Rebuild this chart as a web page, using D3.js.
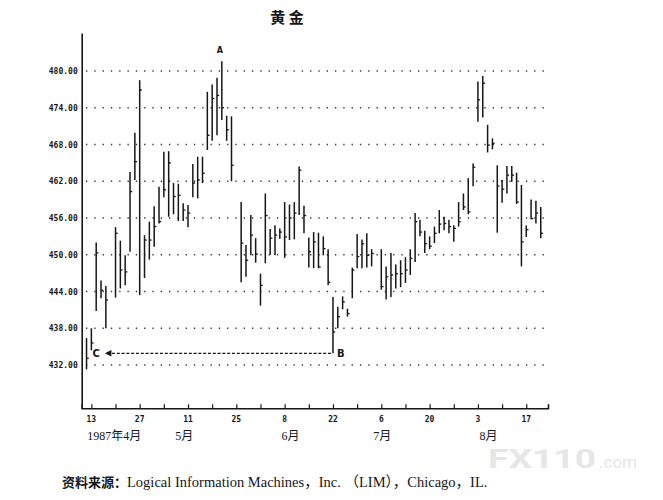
<!DOCTYPE html>
<html>
<head>
<meta charset="utf-8">
<script src="https://cdn.jsdelivr.net/npm/d3@7"></script>
<style>
  body { margin: 0; background: #fff; }
  svg { display: block; }
</style>
</head>
<body>
<svg id="chart" width="663" height="500"></svg>
<script>
var w = 663;
var h = 500;

// daily bars, 1987 (high / low / close)
var dates = [
  '1987-04-10', '1987-04-13', '1987-04-14', '1987-04-15', '1987-04-16',
  '1987-04-20', '1987-04-21', '1987-04-22', '1987-04-23', '1987-04-24',
  '1987-04-27', '1987-04-28', '1987-04-29', '1987-04-30', '1987-05-01',
  '1987-05-04', '1987-05-05', '1987-05-06', '1987-05-07', '1987-05-08',
  '1987-05-11', '1987-05-12', '1987-05-13', '1987-05-14', '1987-05-15',
  '1987-05-18', '1987-05-19', '1987-05-20', '1987-05-21', '1987-05-22',
  '1987-05-26', '1987-05-27', '1987-05-28', '1987-05-29',
  '1987-06-01', '1987-06-02', '1987-06-03', '1987-06-04', '1987-06-05',
  '1987-06-08', '1987-06-09', '1987-06-10', '1987-06-11', '1987-06-12',
  '1987-06-15', '1987-06-16', '1987-06-17', '1987-06-18', '1987-06-19',
  '1987-06-22', '1987-06-23', '1987-06-24', '1987-06-25', '1987-06-26',
  '1987-06-29', '1987-06-30', '1987-07-01', '1987-07-02',
  '1987-07-06', '1987-07-07', '1987-07-08', '1987-07-09', '1987-07-10',
  '1987-07-13', '1987-07-14', '1987-07-15', '1987-07-16', '1987-07-17',
  '1987-07-20', '1987-07-21', '1987-07-22', '1987-07-23', '1987-07-24',
  '1987-07-27', '1987-07-28', '1987-07-29', '1987-07-30', '1987-07-31',
  '1987-08-03', '1987-08-04', '1987-08-05', '1987-08-06', '1987-08-07',
  '1987-08-10', '1987-08-11', '1987-08-12', '1987-08-13', '1987-08-14',
  '1987-08-17', '1987-08-18', '1987-08-19', '1987-08-20'
];
var highs = [
  436.4, 438.0, 452.0, 445.8, 444.9,
  454.5, 452.3, 449.9, 463.5, 469.9,
  478.5, 453.2, 455.4, 457.9, 461.1,
  466.8, 466.9, 461.7, 461.6, 458.4,
  458.1, 464.8, 466.0, 466.0, 476.6,
  477.8, 478.9, 481.6, 472.7, 472.6,
  458.6, 451.6, 456.5, 452.7,
  446.9, 460.0, 454.2, 454.8, 454.3,
  458.6, 458.2, 458.6, 464.4, 458.0,
  452.8, 453.7, 453.6, 453.0, 450.9,
  443.1, 441.5, 443.2, 441.2, 447.9,
  453.4, 452.5, 453.5, 450.9,
  450.9, 448.1, 450.3, 448.4, 449.1,
  449.6, 450.9, 456.8, 455.7, 453.9,
  453.0, 454.6, 457.3, 456.2, 455.7,
  454.8, 458.6, 460.0, 462.5, 464.9,
  478.3, 479.2, 471.2, 469.0, 464.6,
  462.2, 464.5, 464.5, 463.4, 461.4,
  454.8, 459.0, 458.8, 457.8
];
var lows = [
  431.3, 434.4, 440.8, 442.9, 438.0,
  443.0, 444.5, 445.0, 450.5, 462.2,
  443.4, 446.2, 449.2, 451.3, 455.1,
  459.4, 456.2, 456.6, 455.5, 455.5,
  454.5, 459.4, 459.2, 461.7, 467.1,
  468.6, 469.5, 472.0, 468.6, 462.0,
  445.5, 446.4, 449.9, 448.7,
  441.7, 448.6, 450.0, 449.9, 452.6,
  449.5, 452.4, 452.5, 456.5, 453.5,
  447.9, 447.8, 447.8, 449.9, 445.0,
  433.9, 438.0, 441.1, 439.9, 442.9,
  447.8, 447.8, 447.9, 448.1,
  444.3, 442.7, 443.1, 444.5, 444.7,
  445.4, 446.7, 448.8, 453.0, 450.3,
  450.9, 451.9, 453.5, 454.0, 453.5,
  452.1, 454.6, 457.3, 456.6, 461.2,
  471.7, 472.4, 466.7, 467.2, 453.6,
  458.5, 460.0, 461.9, 458.3, 448.1,
  452.9, 455.8, 455.1, 452.7
];
var closes = [
  433.1, 435.6, 450.3, 444.2, 442.6,
  453.5, 447.5, 447.2, 460.3, 465.2,
  476.9, 452.4, 452.4, 454.6, 455.4,
  460.6, 465.0, 459.5, 459.7, 457.3,
  456.8, 461.7, 462.2, 463.3, 469.5,
  475.5, 476.0, 474.0, 470.4, 464.6,
  451.9, 449.1, 453.2, 450.1,
  445.0, 456.4, 452.7, 453.2, 453.7,
  452.9, 456.0, 456.8, 463.8, 456.4,
  450.5, 452.1, 448.0, 451.0, 445.5,
  437.4, 439.9, 442.3, 440.4, 447.5,
  449.7, 451.8, 449.9, 450.2,
  444.8, 446.4, 446.7, 446.9, 446.9,
  447.5, 449.4, 455.4, 453.7, 451.8,
  451.4, 453.5, 455.0, 455.1, 454.6,
  454.3, 455.4, 457.8, 457.0, 464.3,
  475.3, 478.0, 467.9, 468.2, 461.2,
  460.7, 463.0, 463.0, 458.6, 452.1,
  454.1, 455.9, 456.8, 453.5
];

var yTicks = [432, 438, 444, 450, 456, 462, 468, 474, 480];
var xTickDates = ['1987-04-13', '1987-04-27', '1987-05-11', '1987-05-25', '1987-06-08',
  '1987-06-22', '1987-07-06', '1987-07-20', '1987-08-03', '1987-08-17'];
var xTickLabels = ['13', '27', '11', '25', '8', '22', '6', '20', '3', '17'];
var monthDates = ['1987-04-13', '1987-05-08', '1987-06-09', '1987-07-06', '1987-08-05'];
var monthLabels = ['1987年4月', '5月', '6月', '7月', '8月'];

var parse = d3.timeParse('%Y-%m-%d');
var start = parse('1987-04-10');

// weekday slot counted from the first bar (weekends dropped, holidays kept as gaps)
function slot(s) {
  var d = parse(s);
  return d3.timeDay.count(start, d) - 2 * d3.timeMonday.count(start, d);
}

var bars = dates.map(function (d, i) {
  return {slot: slot(d), high: highs[i], low: lows[i], close: closes[i]};
});

var x = d3.scaleLinear().domain([-1, 95.5]).range([81.7, 548]);
var y = d3.scaleLinear().domain([424.93, 486.2]).range([408.3, 33]);

var ink = '#161616';
var svg = d3.select('#chart');

// title
svg.append('text')
  .text('黄 金')
  .attr('x', 287)
  .attr('y', 23)
  .attr('text-anchor', 'middle')
  .attr('font-family', 'Noto Sans CJK SC')
  .attr('font-weight', 'bold')
  .attr('font-size', '15px')
  .attr('fill', ink);

// dotted grid
svg.selectAll('line.grid')
  .data(yTicks)
  .enter()
  .append('line')
  .attr('class', 'grid')
  .attr('x1', 86)
  .attr('x2', 546)
  .attr('y1', function (d) { return y(d); })
  .attr('y2', function (d) { return y(d); })
  .attr('stroke', '#333')
  .attr('stroke-width', 1.3)
  .attr('stroke-dasharray', '1.3,7');

// y axis
var yAxis = d3.axisLeft(y)
  .tickValues(yTicks)
  .tickSize(0)
  .tickPadding(4)
  .tickFormat(d3.format('.2f'));
var gy = svg.append('g').attr('transform', 'translate(81.7,0)').call(yAxis);
gy.select('.domain').attr('stroke', ink).attr('stroke-width', 1.6);
gy.selectAll('text')
  .attr('font-family', 'DejaVu Sans Mono')
  .attr('font-weight', 'bold')
  .attr('font-size', '8px')
  .attr('fill', ink);

// x axis: a tick every weekly Monday, label every second one
var tickSlots = d3.range(1, 95, 5);
var xAxis = d3.axisBottom(x)
  .tickValues(tickSlots)
  .tickSize(-4)
  .tickFormat('');
var gx = svg.append('g').attr('transform', 'translate(0,408.3)').call(xAxis);
gx.select('.domain').attr('stroke', ink).attr('stroke-width', 1.6);
gx.selectAll('.tick line').attr('stroke', ink).attr('stroke-width', 1.2);

svg.selectAll('text.xlab')
  .data(xTickDates)
  .enter()
  .append('text')
  .attr('class', 'xlab')
  .text(function (d, i) { return xTickLabels[i]; })
  .attr('x', function (d) { return x(slot(d)); })
  .attr('y', 422)
  .attr('text-anchor', 'middle')
  .attr('font-family', 'DejaVu Sans Mono')
  .attr('font-weight', 'bold')
  .attr('font-size', '8px')
  .attr('fill', ink);

svg.selectAll('text.month')
  .data(monthDates)
  .enter()
  .append('text')
  .attr('class', 'month')
  .text(function (d, i) { return monthLabels[i]; })
  .attr('x', function (d, i) { return i === 0 ? x(slot(d)) - 4 : x(slot(d)) - 8; })
  .attr('y', 440)
  .attr('font-family', 'Liberation Serif, Noto Sans CJK SC')
  .attr('font-size', '12px')
  .attr('fill', ink);

// bars
var g = svg.append('g');
g.selectAll('line.hl')
  .data(bars)
  .enter()
  .append('line')
  .attr('class', 'hl')
  .attr('x1', function (d) { return x(d.slot); })
  .attr('x2', function (d) { return x(d.slot); })
  .attr('y1', function (d) { return y(d.high); })
  .attr('y2', function (d) { return y(d.low); })
  .attr('stroke', ink)
  .attr('stroke-width', 1.5);

g.selectAll('line.cl')
  .data(bars)
  .enter()
  .append('line')
  .attr('class', 'cl')
  .attr('x1', function (d) { return x(d.slot); })
  .attr('x2', function (d) { return x(d.slot) + 2.2; })
  .attr('y1', function (d) { return y(d.close); })
  .attr('y2', function (d) { return y(d.close); })
  .attr('stroke', ink)
  .attr('stroke-width', 1.3);

// annotations A, B, C
var peak = bars[d3.maxIndex(bars, function (d) { return d.high; })];
var trough = bars[49];
var first = bars[0];

var label = function (t, lx, ly, size) {
  svg.append('text')
    .text(t)
    .attr('x', lx)
    .attr('y', ly)
    .attr('font-family', 'DejaVu Sans')
    .attr('font-weight', 'bold')
    .attr('font-size', size)
    .attr('fill', ink);
};
label('A', x(peak.slot) - 5, y(peak.high) - 8, '8px');
label('B', x(trough.slot) + 4, y(trough.low) + 4, '10px');
label('C', x(first.slot) + 6, y(trough.low) + 4, '10px');

svg.append('defs').append('marker')
  .attr('id', 'arr')
  .attr('viewBox', '0 0 10 10')
  .attr('refX', 9)
  .attr('refY', 5)
  .attr('markerWidth', 6)
  .attr('markerHeight', 5)
  .attr('orient', 'auto')
  .append('path')
  .attr('d', 'M0,0 L10,5 L0,10 Z')
  .attr('fill', ink);

svg.append('line')
  .attr('x1', x(trough.slot) - 2)
  .attr('x2', x(first.slot) + 19)
  .attr('y1', y(trough.low))
  .attr('y2', y(trough.low))
  .attr('stroke', ink)
  .attr('stroke-width', 1.3)
  .attr('stroke-dasharray', '3,1.8')
  .attr('marker-end', 'url(#arr)');

// watermark
svg.append('text')
  .attr('x', 488)
  .attr('y', 468)
  .attr('font-family', 'Roboto')
  .attr('font-weight', 'bold')
  .attr('font-size', '26px')
  .attr('textLength', 108)
  .attr('lengthAdjust', 'spacingAndGlyphs')
  .attr('fill', '#e6e6e6')
  .text('FX110');
svg.append('text')
  .attr('x', 599)
  .attr('y', 468)
  .attr('font-family', 'Roboto')
  .attr('font-size', '17px')
  .attr('fill', '#e6e6e6')
  .text('.com');

// source line
var src = svg.append('text')
  .attr('x', 62)
  .attr('y', 487)
  .attr('fill', ink);
src.append('tspan')
  .attr('font-family', 'Noto Sans CJK SC')
  .attr('font-weight', 'bold')
  .attr('font-size', '13px')
  .text('资料来源：');
src.append('tspan')
  .attr('font-family', 'Liberation Serif, Noto Sans CJK SC')
  .attr('font-size', '14.5px')
  .text('Logical Information Machines，Inc. （LIM），Chicago，IL.');
</script>
</body>
</html>
